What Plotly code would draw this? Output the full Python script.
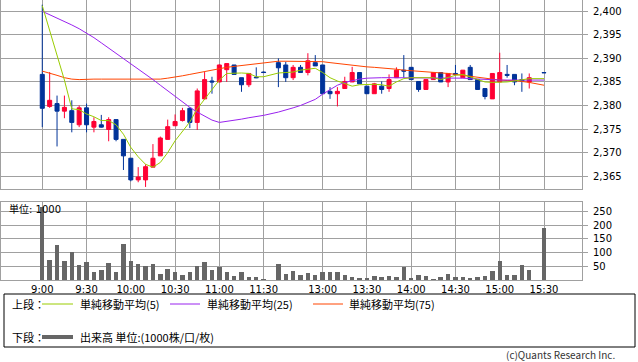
import plotly.graph_objects as go

# ---------------- data (5-minute bars) ----------------
slot = [0, 1, 2, 3, 4, 5, 6, 7, 8, 9, 10, 11, 12, 13, 14, 15, 16, 17, 18, 19, 20,
        21, 22, 23, 24, 25, 26, 27, 28, 29, 30,
        32, 33, 34, 35, 36, 37, 38, 39, 40, 41, 42, 43, 44, 45, 46, 47, 48, 49, 50,
        51, 52, 53, 54, 55, 56, 57, 58, 59, 60, 61, 62, 63, 64, 65, 66, 68]

open_ = [2386.6, 2379.8, 2380.4, 2378.8, 2378.9, 2375.9, 2379.5, 2375.4, 2375.9, 2374.9,
         2377.0, 2372.8, 2368.8, 2364.2, 2364.2, 2366.9, 2369.3, 2372.8, 2375.7, 2376.8,
         2379.4, 2376.4, 2381.4, 2385.2, 2385.0, 2387.6, 2388.6, 2385.9, 2384.4, 2386.0,
         2387.1,
         2389.1, 2388.6, 2385.9, 2388.1, 2387.0, 2389.1, 2388.6, 2383.0, 2382.5, 2383.6,
         2385.0, 2387.0, 2384.1, 2382.5, 2384.1, 2383.6, 2385.9, 2387.5, 2388.1, 2385.1,
         2383.4, 2385.5, 2387.0, 2385.0, 2386.8, 2385.9, 2388.1, 2385.5, 2383.6, 2381.4,
         2385.0, 2386.6, 2386.6, 2385.5, 2385.0, 2387.0]
high = [2401.4, 2387.1, 2382.1, 2382.1, 2381.1, 2380.0, 2380.4, 2377.5, 2378.0, 2377.5,
        2377.0, 2372.8, 2368.8, 2366.9, 2367.5, 2371.8, 2373.4, 2377.0, 2378.1, 2379.5,
        2379.6, 2383.6, 2387.1, 2386.1, 2388.7, 2388.9, 2388.6, 2385.9, 2386.8, 2388.1,
        2387.2,
        2390.0, 2389.3, 2388.6, 2388.6, 2391.1, 2390.7, 2388.6, 2383.9, 2383.9, 2386.1,
        2388.2, 2387.0, 2384.1, 2384.8, 2385.1, 2386.6, 2388.1, 2390.7, 2388.1, 2385.1,
        2385.5, 2387.0, 2387.0, 2386.8, 2388.6, 2387.5, 2388.6, 2385.5, 2383.6, 2386.8,
        2391.2, 2388.6, 2386.6, 2386.8, 2386.8, 2387.0]
low = [2375.4, 2379.5, 2371.3, 2377.3, 2374.3, 2375.4, 2374.3, 2374.3, 2375.3, 2372.4,
       2372.4, 2366.3, 2363.9, 2363.7, 2362.7, 2366.9, 2369.3, 2372.8, 2375.7, 2376.6,
       2375.2, 2374.8, 2381.4, 2382.5, 2385.0, 2385.0, 2386.6, 2382.9, 2383.9, 2385.8,
       2386.9,
       2383.9, 2385.0, 2385.4, 2387.0, 2386.4, 2388.4, 2382.5, 2381.4, 2379.8, 2383.6,
       2385.0, 2384.6, 2382.5, 2382.5, 2382.5, 2382.9, 2385.9, 2385.9, 2385.5, 2382.9,
       2383.4, 2385.5, 2385.0, 2383.9, 2386.4, 2385.9, 2385.5, 2383.4, 2381.3, 2381.4,
       2385.0, 2385.9, 2384.3, 2382.9, 2383.6, 2386.9]
close = [2379.4, 2381.1, 2378.8, 2379.6, 2376.4, 2379.5, 2375.9, 2376.6, 2375.4, 2377.0,
         2372.8, 2369.3, 2364.2, 2364.8, 2367.0, 2368.8, 2373.1, 2375.5, 2376.6, 2378.9,
         2376.4, 2383.1, 2385.5, 2385.0, 2388.6, 2388.9, 2386.6, 2384.4, 2386.8, 2385.9,
         2387.0,
         2388.0, 2385.9, 2388.1, 2387.0, 2389.5, 2388.4, 2382.5, 2382.5, 2383.0, 2385.1,
         2387.0, 2384.6, 2382.5, 2384.6, 2383.4, 2385.5, 2387.5, 2387.3, 2385.5, 2383.4,
         2385.5, 2387.0, 2385.0, 2386.8, 2386.6, 2387.5, 2385.5, 2383.4, 2381.9, 2386.8,
         2387.0, 2386.4, 2385.0, 2385.2, 2385.9, 2386.95]

ma5 = [2401.2, 2396.1, 2390.7, 2385.4, 2379.3, 2379.1, 2378.2, 2377.6, 2376.8, 2376.8,
       2375.9, 2373.9, 2371.1, 2369.1, 2367.5, 2366.9, 2367.9, 2370.0, 2372.5, 2374.5,
       2376.5, 2379.3, 2381.4, 2383.4, 2385.4, 2386.8, 2386.9, 2386.9, 2386.8, 2386.1,
       2386.1,
       2386.9, 2387.0, 2387.1, 2387.5, 2387.7, 2387.9, 2387.0, 2385.9, 2385.2, 2384.6,
       2384.1, 2384.4, 2384.5, 2384.5, 2384.4, 2384.1, 2385.0, 2385.7, 2385.9, 2385.9,
       2385.9, 2385.9, 2385.5, 2385.9, 2386.4, 2386.6, 2386.1, 2385.5, 2385.0, 2384.9,
       2384.9, 2385.0, 2385.2, 2385.5, 2385.7, 2385.7]
ma25 = [2400.0, 2399.3, 2398.6, 2397.9, 2397.1, 2396.3, 2395.4, 2394.4, 2393.3, 2392.2,
        2391.1, 2390.0, 2388.9, 2387.8, 2386.6, 2385.5, 2384.3, 2383.1, 2381.9, 2380.7,
        2379.6, 2378.6, 2377.7, 2376.9, 2376.4, 2376.6, 2376.8, 2377.1, 2377.4, 2377.6,
        2377.9,
        2378.6, 2379.0, 2379.5, 2380.0, 2380.6, 2381.3, 2382.4, 2383.4, 2384.3, 2384.9,
        2385.3, 2385.6, 2385.8, 2385.9, 2385.9, 2385.9, 2385.9, 2385.9, 2385.9, 2385.9,
        2385.9, 2385.9, 2385.9, 2385.9, 2385.9, 2385.8, 2385.7, 2385.6, 2385.5, 2385.4,
        2385.4, 2385.4, 2385.4, 2385.4, 2385.4, 2385.4]
ma75 = [2387.3, 2386.9, 2386.4, 2385.9, 2385.6, 2385.5, 2385.6, 2385.6, 2385.6, 2385.6,
        2385.6, 2385.6, 2385.6, 2385.6, 2385.5, 2385.5, 2385.6, 2385.8, 2386.0, 2386.3,
        2386.6, 2386.9, 2387.2, 2387.5, 2387.9, 2388.1, 2388.3, 2388.5, 2388.7, 2388.9,
        2389.1,
        2389.4, 2389.4, 2389.4, 2389.4, 2389.4, 2389.4, 2389.3, 2389.1, 2388.9, 2388.8,
        2388.6, 2388.4, 2388.2, 2388.1, 2388.0, 2387.9, 2387.7, 2387.5, 2387.4, 2387.3,
        2387.2, 2387.0, 2386.9, 2386.8, 2386.6, 2386.4, 2386.2, 2385.9, 2385.8, 2385.6,
        2385.4, 2385.3, 2385.3, 2385.1, 2384.9, 2384.3]

volume = [268, 74, 129, 70, 104, 56, 67, 30, 38, 63,
          30, 132, 70, 60, 52, 60, 23, 42, 30, 19,
          30, 52, 67, 38, 46, 30, 16, 30, 12, 12,
          2,
          60, 23, 34, 19, 26, 19, 30, 30, 30, 19,
          12, 8, 8, 16, 12, 16, 12, 46, 8, 19,
          16, 5, 12, 23, 12, 12, 8, 12, 16, 34,
          70, 19, 19, 56, 38, 191]

tick_slots = [0, 6, 12, 18, 24, 30, 38, 44, 50, 56, 62, 68]
tick_labels = ["9:00", "9:30", "10:00", "10:30", "11:00", "11:30",
               "13:00", "13:30", "14:00", "14:30", "15:00", "15:30"]
price_ticks = [2365, 2370, 2375, 2380, 2385, 2390, 2395, 2400]
vol_ticks = [50, 100, 150, 200, 250]

legend_upper = ["単純移動平均(5)", "単純移動平均(25)", "単純移動平均(75)"]
legend_lower = "出来高 単位:(1000株/口/枚)"

# ---------------- styling ----------------
W, H = 638, 362
L, R, T, B = 1, 56, 0, 82
PH = H - T - B
PW = W - L - R
RED = "#FF0033"
BLUE = "#003399"
C5, C25, C75 = "#99CC00", "#9922EE", "#FF4400"
GRID = "#A0A0A0"
FONT = "DejaVu Sans, Noto Sans CJK JP, sans-serif"
JFONT = "Noto Sans CJK JP, sans-serif"


def px_x(x):
    return (x - L) / PW


def px_y(y):
    return (H - B - y) / PH


fig = go.Figure()

fig.add_trace(go.Candlestick(
    x=slot, open=open_, high=high, low=low, close=close,
    increasing=dict(line=dict(color=RED, width=1), fillcolor=RED),
    decreasing=dict(line=dict(color=BLUE, width=1), fillcolor=BLUE),
    whiskerwidth=0, xaxis="x", yaxis="y", hoverinfo="skip", showlegend=False))

for vals, col in [(ma75, C75), (ma25, C25), (ma5, C5)]:
    fig.add_trace(go.Scatter(x=slot, y=vals, mode="lines",
                             line=dict(color=col, width=1),
                             xaxis="x", yaxis="y", hoverinfo="skip", showlegend=False))

fig.add_trace(go.Bar(x=slot, y=volume, width=0.6, marker=dict(color="#666666", line=dict(width=0)),
                     xaxis="x2", yaxis="y2", hoverinfo="skip", showlegend=False))

xr = [(1 - 42.3) / 7.382, (582.3 - 42.3) / 7.382]
top_dom = [1 - 189.3 / PH, 1]
bot_dom = [0, (PH - 202.3) / PH]

axis_common = dict(showline=True, mirror=True, linecolor=GRID, linewidth=1,
                   showgrid=True, gridcolor=GRID, gridwidth=1, zeroline=False,
                   automargin=False)

fig.update_layout(
    width=W, height=H,
    margin=dict(l=L, r=R, t=T, b=B),
    paper_bgcolor="white", plot_bgcolor="white",
    font=dict(family=FONT, size=10, color="#000000"),
    boxgap=0.22,
    bargap=0,
    xaxis=dict(domain=[0, 1], anchor="y", range=xr, tickvals=tick_slots,
               showticklabels=False, ticks="", rangeslider=dict(visible=False),
               **axis_common),
    yaxis=dict(domain=top_dom, anchor="x", side="right", range=[2362.2, 2402.4],
               tickvals=price_ticks, tickformat=",", ticks="outside", ticklen=5,
               tickcolor=GRID, ticklabelstandoff=3, **axis_common),
    xaxis2=dict(domain=[0, 1], anchor="y2", range=xr, tickvals=tick_slots,
                ticktext=tick_labels, ticks="", matches="x", **axis_common),
    yaxis2=dict(domain=bot_dom, anchor="x2", side="right", range=[0, 284],
                tickvals=vol_ticks, ticks="outside", ticklen=5, tickcolor=GRID,
                ticklabelstandoff=3, **axis_common),
)

shapes = []
annotations = []

# "単位: 1000" label in the volume panel
annotations.append(dict(x=px_x(7), y=px_y(209), xref="paper", yref="paper",
                        text="単位: 1000", showarrow=False, xanchor="left", yanchor="middle",
                        font=dict(family=FONT, size=10, color="#000000")))

# legend box
shapes.append(dict(type="rect", xref="paper", yref="paper",
                   x0=px_x(4), x1=px_x(635), y0=px_y(294), y1=px_y(347),
                   line=dict(color="#000000", width=1), fillcolor="rgba(0,0,0,0)"))

row1_y = 304
row2_y = 337
annotations.append(dict(x=px_x(10), y=px_y(row1_y), xref="paper", yref="paper", text="上段：",
                        showarrow=False, xanchor="left", yanchor="middle",
                        font=dict(family=JFONT, size=11, color="#000000")))
annotations.append(dict(x=px_x(10), y=px_y(row2_y), xref="paper", yref="paper", text="下段：",
                        showarrow=False, xanchor="left", yanchor="middle",
                        font=dict(family=JFONT, size=11, color="#000000")))

seg = [(42, 73, 78), (170, 200, 205), (313, 343, 347)]
for (x0, x1, tx), col, lab in zip(seg, [C5, C25, C75], legend_upper):
    shapes.append(dict(type="line", xref="paper", yref="paper",
                       x0=px_x(x0), x1=px_x(x1), y0=px_y(row1_y), y1=px_y(row1_y),
                       line=dict(color=col, width=1)))
    annotations.append(dict(x=px_x(tx), y=px_y(row1_y), xref="paper", yref="paper", text=lab,
                            showarrow=False, xanchor="left", yanchor="middle",
                            font=dict(family=JFONT, size=11, color="#000000")))

shapes.append(dict(type="line", xref="paper", yref="paper",
                   x0=px_x(42), x1=px_x(73), y0=px_y(row2_y), y1=px_y(row2_y),
                   line=dict(color="#666666", width=4)))
annotations.append(dict(x=px_x(78), y=px_y(row2_y), xref="paper", yref="paper", text=legend_lower,
                        showarrow=False, xanchor="left", yanchor="middle",
                        font=dict(family=JFONT, size=11, color="#000000")))

annotations.append(dict(x=px_x(617), y=px_y(354.5), xref="paper", yref="paper",
                        text="(c)Quants Research Inc.", showarrow=False,
                        xanchor="right", yanchor="middle",
                        font=dict(family=JFONT, size=10, color="#333333")))

fig.update_layout(shapes=shapes, annotations=annotations)

fig.write_html("out.html",
               config={"displayModeBar": False, "staticPlot": True},
               post_script="document.body.style.margin='0px';document.body.style.padding='0px';")
